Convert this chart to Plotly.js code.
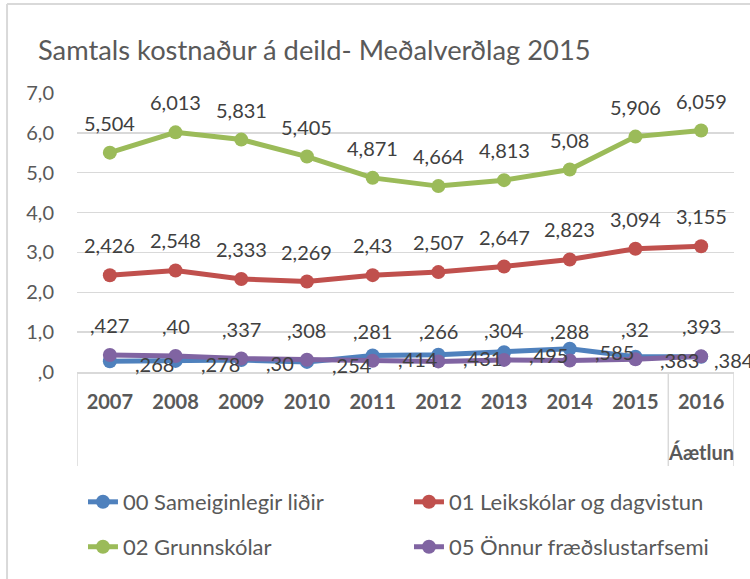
<!DOCTYPE html>
<html>
<head>
<meta charset="utf-8">
<script src="https://cdn.plot.ly/plotly-3.0.1.min.js"></script>
<style>html,body{margin:0;padding:0;background:#fff;}#chart{width:750px;height:579px;}</style>
</head>
<body>
<div id="chart"></div>
<script>
const years = ["2007","2008","2009","2010","2011","2012","2013","2014","2015","2016"];
const seriesNames = ["00 Sameiginlegir liðir","01 Leikskólar og dagvistun","02 Grunnskólar","05 Önnur fræðslustarfsemi"];
const sameiginlegir = [0.268,0.278,0.30,0.254,0.414,0.431,0.495,0.585,0.383,0.384];
const leikskolar = [2.426,2.548,2.333,2.269,2.43,2.507,2.647,2.823,3.094,3.155];
const grunnskolar = [5.504,6.013,5.831,5.405,4.871,4.664,4.813,5.08,5.906,6.059];
const onnur = [0.427,0.40,0.337,0.308,0.281,0.266,0.304,0.288,0.32,0.393];
const labelsSameiginlegir = [",268",",278",",30",",254",",414",",431",",495",",585",",383",",384"];
const labelsLeikskolar = ["2,426","2,548","2,333","2,269","2,43","2,507","2,647","2,823","3,094","3,155"];
const labelsGrunnskolar = ["5,504","6,013","5,831","5,405","4,871","4,664","4,813","5,08","5,906","6,059"];
const labelsOnnur = [",427",",40",",337",",308",",281",",266",",304",",288",",32",",393"];
const yTickVals = [0,1,2,3,4,5,6,7];
const yTickText = [",0","1,0","2,0","3,0","4,0","5,0","6,0","7,0"];
const subLabel = "Áætlun";
const titleText = "Samtals kostnaður á deild- Meðalverðlag 2015";

const colors = ["#4F81BD","#C0504D","#9BBB59","#8064A2"];
const FONT = "Lato, 'Open Sans', sans-serif";
const xIdx = years.map((_, i) => i);

function mk(name, y, color, legend) {
  return {
    type: "scatter", mode: "lines+markers", name: name, x: xIdx, y: y,
    line: {color: color, width: 5}, marker: {color: color, size: 14},
    legend: legend, cliponaxis: false, hoverinfo: "skip"
  };
}
const traces = [
  mk(seriesNames[0], sameiginlegir, colors[0], "legend"),
  mk(seriesNames[1], leikskolar, colors[1], "legend2"),
  mk(seriesNames[2], grunnskolar, colors[2], "legend3"),
  mk(seriesNames[3], onnur, colors[3], "legend4")
];

const annotations = [];
const lblFont = {family: FONT, size: 20, color: "#404040"};
function above(vals, labels) {
  vals.forEach((v, i) => annotations.push({
    x: i, y: v, xref: "x", yref: "y", text: labels[i], showarrow: false,
    xanchor: "center", yanchor: "middle", yshift: 30, font: lblFont
  }));
}
above(leikskolar, labelsLeikskolar);
above(grunnskolar, labelsGrunnskolar);
above(onnur, labelsOnnur);
sameiginlegir.forEach((v, i) => annotations.push({
  x: i, y: v, xref: "x", yref: "y", text: labelsSameiginlegir[i], showarrow: false,
  xanchor: "left", yanchor: "middle", xshift: i === years.length - 1 ? 11 : 23, yshift: -3, font: lblFont
}));
annotations.push({
  x: years.length - 1, y: -0.285, xref: "x", yref: "paper", text: "<b>" + subLabel + "</b>",
  showarrow: false, xanchor: "center", yanchor: "middle",
  font: {family: FONT, size: 20, color: "#595959"}
});

const gridC = "#D9D9D9";
const shapes = [
  {type: "line", xref: "x", yref: "paper", x0: -0.5, x1: -0.5, y0: 0, y1: -0.337, line: {color: gridC, width: 1.5}},
  {type: "line", xref: "x", yref: "paper", x0: 8.5, x1: 8.5, y0: 0, y1: -0.337, line: {color: gridC, width: 1.5}},
  {type: "line", xref: "x", yref: "paper", x0: 9.5, x1: 9.5, y0: 0, y1: -0.337, line: {color: gridC, width: 1.5}},
  {type: "line", xref: "paper", yref: "paper", x0: -0.1065, x1: -0.1065, y0: 1.319, y1: -0.75, line: {color: gridC, width: 2}},
  {type: "line", xref: "paper", yref: "paper", x0: -0.1065, x1: 1.03, y0: 1.319, y1: 1.319, line: {color: gridC, width: 2}}
];

const legFont = {family: FONT, size: 22, color: "#595959"};
function leg(x, y) {
  return {orientation: "h", x: x, y: y, xanchor: "left", yanchor: "middle",
          font: legFont, bgcolor: "rgba(0,0,0,0)"};
}
const col1 = 0.003 + 4/657, col2 = col1 + 326/657, row1 = -0.466, row2 = -0.627;
const layout = {
  width: 750, height: 579,
  margin: {l: 77, r: 16, t: 93, b: 207, autoexpand: false},
  paper_bgcolor: "#ffffff", plot_bgcolor: "#ffffff",
  font: {family: FONT, color: "#595959"},
  title: {text: titleText, x: 38/750, xanchor: "left", xref: "container", y: 1 - 50/579, yanchor: "middle", yref: "container",
          font: {family: FONT, size: 27.3, color: "#595959"}},
  xaxis: {range: [-0.5, 9.5], tickvals: xIdx, ticktext: years.map(y => "<b>" + y + "</b>"),
          showgrid: false, zeroline: false, showline: true, linecolor: gridC, linewidth: 1.5,
          ticks: "", ticklabelstandoff: 11, tickfont: {family: FONT, size: 20, color: "#595959"}, fixedrange: true},
  yaxis: {range: [0, 7], tickvals: yTickVals, ticktext: yTickText, showgrid: true, gridcolor: gridC, gridwidth: 1.5,
          zeroline: false, showline: false, ticks: "", ticklabelstandoff: 22,
          tickfont: {family: FONT, size: 20, color: "#595959"}, fixedrange: true},
  showlegend: true,
  legend: leg(col1, row1),
  legend2: leg(col2, row1),
  legend3: leg(col1, row2),
  legend4: leg(col2, row2),
  annotations: annotations,
  shapes: shapes
};
Plotly.newPlot("chart", traces, layout, {displayModeBar: false, staticPlot: true});
</script>
</body>
</html>
